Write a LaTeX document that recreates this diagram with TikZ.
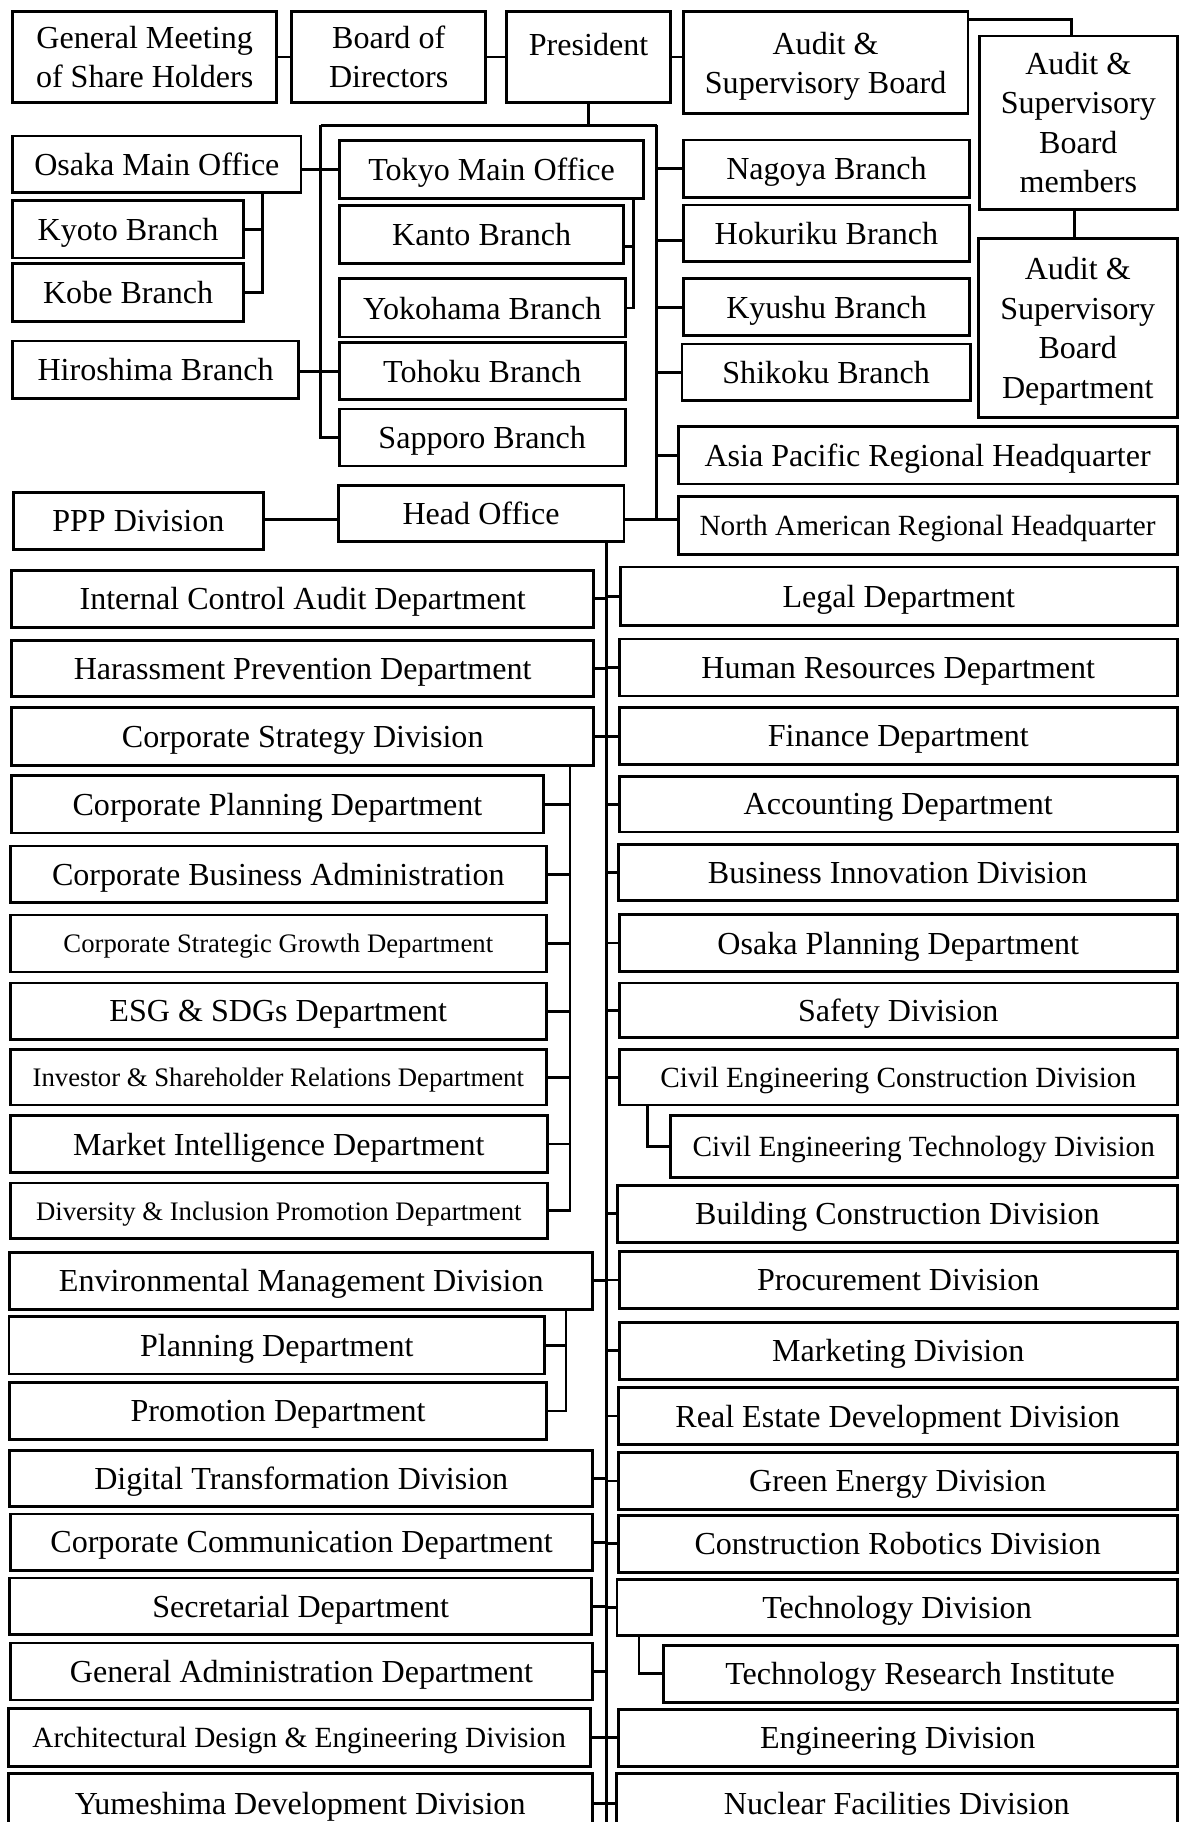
\documentclass[tikz,border=0pt]{standalone}
\usepackage{fontspec}
\setmainfont{Liberation Serif}
\begin{document}
\begin{tikzpicture}[x=0.5pt,y=-0.5pt,
    box/.style={draw,line width=1.2pt,inner sep=0pt,outer sep=0pt,align=center,text depth=-2pt,font=\fontsize{13.8}{17}\selectfont},
    med/.style={font=\fontsize{12.6}{15}\selectfont},
    sml/.style={font=\fontsize{11.5}{14}\selectfont},
    link/.style={line width=1.2pt}]

\def\BOX#1#2#3#4#5#6#7{\node[box,#6,minimum width={(#4-#2)*0.5pt},minimum height={(#5-#3)*0.5pt}] (#1) at ({(#2+#4)/2},{(#3+#5)/2}) {#7};}

	\useasboundingbox (0,0) rectangle (1014,1568);

	% top
	\BOX{gm}{11}{10}{238}{88}{}{General Meeting\\of Share Holders}
	\BOX{bod}{251}{10}{418}{88}{}{Board of\\Directors}
	\BOX{pres}{436}{10}{577}{88}{}{\raisebox{11pt}{President}}
	\BOX{asb}{588}{10}{833}{98}{text depth=0pt}{Audit \&\\Supervisory Board}
	\BOX{asbm}{843}{31}{1013}{180}{}{Audit \&\\Supervisory\\Board\\members}
	\BOX{asbd}{842}{205}{1013}{359}{}{Audit \&\\Supervisory\\Board\\Department}

	% offices and branches
	\BOX{osaka}{11}{117}{259}{166}{}{Osaka Main Office}
	\BOX{kyoto}{11}{172.7}{209.5}{222}{}{Kyoto Branch}
	\BOX{kobe}{11}{226.7}{209.5}{277}{}{Kobe Branch}
	\BOX{hiroshima}{11}{293.5}{256.7}{343}{}{Hiroshima Branch}
	\BOX{ppp}{11.5}{423.5}{226.6}{472.7}{}{PPP Division}
	\BOX{tokyo}{292.5}{121}{553.6}{170.7}{}{Tokyo Main Office}
	\BOX{kanto}{292.5}{177}{536.5}{226.7}{}{Kanto Branch}
	\BOX{yokohama}{292}{240}{538}{290}{}{Yokohama Branch}
	\BOX{tohoku}{292}{295}{538}{344}{}{Tohoku Branch}
	\BOX{sapporo}{292}{352}{538}{401}{}{Sapporo Branch}
	\BOX{head}{291}{417.5}{537}{466}{}{Head Office}
	\BOX{nagoya}{588.5}{120.5}{834}{170}{}{Nagoya Branch}
	\BOX{hokuriku}{588.5}{176.5}{834}{225}{}{Hokuriku Branch}
	\BOX{kyushu}{588.5}{239.7}{834}{289}{}{Kyushu Branch}
	\BOX{shikoku}{587}{296}{835}{345}{}{Shikoku Branch}
	\BOX{asia}{583.6}{367}{1013}{416.6}{}{Asia Pacific Regional Headquarter}
	\BOX{na}{583.6}{427.5}{1013}{477}{med}{North American Regional Headquarter}

	% left column
	\BOX{icad}{10}{490.7}{511}{539.7}{}{Internal Control Audit Department}
	\BOX{hpd}{10}{551}{511}{599.7}{}{Harassment Prevention Department}
	\BOX{csd}{10}{609}{511}{658.5}{}{Corporate Strategy Division}
	\BOX{cpd}{10}{667.7}{467.5}{716.8}{}{Corporate Planning Department}
	\BOX{cba}{9}{728}{470}{777}{}{Corporate Business Administration}
	\BOX{csgd}{9}{787.4}{470}{836.4}{sml}{Corporate Strategic Growth Department}
	\BOX{esg}{9}{846}{470}{894.4}{}{ESG \& SDGs Department}
	\BOX{ishr}{9}{903}{470}{951}{sml}{Investor \& Shareholder Relations Department}
	\BOX{mid}{9}{960}{471}{1009}{}{Market Intelligence Department}
	\BOX{dipd}{9}{1018}{471}{1066}{sml}{Diversity \& Inclusion Promotion Department}
	\BOX{emd}{8.5}{1077.6}{510}{1126.6}{}{Environmental Management Division}
	\BOX{pld}{7.7}{1132.8}{468.8}{1182.4}{}{Planning Department}
	\BOX{prd}{8.5}{1189.5}{470}{1239}{}{Promotion Department}
	\BOX{dtd}{8.5}{1248}{510}{1296.8}{}{Digital Transformation Division}
	\BOX{ccd}{9}{1303}{510}{1351.6}{}{Corporate Communication Department}
	\BOX{sed}{8.5}{1358}{509}{1406.8}{}{Secretarial Department}
	\BOX{gad}{9}{1414}{510}{1463}{}{General Administration Department}
	\BOX{aded}{7}{1470.6}{508}{1520}{med}{Architectural Design \& Engineering Division}
	\BOX{ydd}{7}{1526}{509.6}{1578}{}{Yumeshima Development Division}

	% right column
	\BOX{legal}{534}{488}{1013}{538.6}{}{Legal Department}
	\BOX{hrd}{533}{550}{1013}{599}{}{Human Resources Department}
	\BOX{fin}{533}{609}{1013}{658}{}{Finance Department}
	\BOX{acc}{533}{668}{1013}{716}{}{Accounting Department}
	\BOX{bid}{532}{727}{1013}{775}{}{Business Innovation Division}
	\BOX{opd}{533}{787}{1013}{836}{}{Osaka Planning Department}
	\BOX{safety}{533}{846}{1013}{893}{}{Safety Division}
	\BOX{cecd}{533}{903}{1013}{951}{med}{Civil Engineering Construction Division}
	\BOX{cetd}{577}{960}{1013}{1013}{med}{Civil Engineering Technology Division}
	\BOX{bcd}{531.6}{1020}{1013}{1069}{}{Building Construction Division}
	\BOX{proc}{533}{1077}{1013}{1126}{}{Procurement Division}
	\BOX{mkt}{533}{1138}{1013}{1187}{}{Marketing Division}
	\BOX{red}{532}{1194}{1013}{1243}{}{Real Estate Development Division}
	\BOX{ged}{532}{1250}{1013}{1299}{}{Green Energy Division}
	\BOX{crd}{532}{1304}{1013}{1353}{}{Construction Robotics Division}
	\BOX{tech}{531}{1359}{1013}{1407.4}{}{Technology Division}
	\BOX{tri}{570.7}{1416}{1013}{1465}{}{Technology Research Institute}
	\BOX{eng}{532}{1471}{1013}{1520}{}{Engineering Division}
	\BOX{nuc}{530.5}{1526}{1013}{1578}{}{Nuclear Facilities Division}

	% top links
	\draw[link] (gm.east) -- (bod.west);
	\draw[link] (bod.east) -- (pres.west);
	\draw[link] (pres.east) -- (pres.east -| asb.west);
	\draw[link] ([yshift=-3.3pt]asb.north east) -| ([xshift=-3pt]asbm.north);
	\draw[link] ([xshift=-1.5pt]asbm.south) -- ([xshift=-1.5pt]asbm.south |- asbd.north);

	\coordinate (busL) at (276,108);
	\coordinate (busR) at (565,108);
	\draw[link] (pres.south) -- (pres.south |- busL);
	\draw[link] (busL) -- (busR);
	\draw[link] (busL) |- (sapporo.west);
	\draw[link] (osaka.east |- tokyo.west) -- (tokyo.west);
	\draw[link] (hiroshima.east |- tohoku.west) -- (tohoku.west);

	\coordinate (osub) at (225.6,0);
	\draw[link] (osaka.south -| osub) |- (kobe.east);
	\draw[link] (kyoto.east) -- (kyoto.east -| osub);

	\coordinate (tsub) at (545,0);
	\path ([yshift=-5pt]kanto.east) coordinate (kt);
	\draw[link] (tokyo.south -| tsub) |- (yokohama.east);
	\draw[link] (kt) -- (kt -| tsub);

	\coordinate (hq) at (565,447);
	\path ([yshift=-3pt]hokuriku.west) coordinate (hk);
	\draw[link] (busR) -- (hq);
	\draw[link] (ppp.east |- hq) -- (hq -| head.west);
	\draw[link] (hq -| head.east) -- (hq -| na.west);
	\draw[link] (hk) -- (hk -| hq);
	\foreach \n in {nagoya,kyushu,shikoku,asia}
		\draw[link] (\n.west -| hq) -- (\n.west);

	% head office spine
	\coordinate (spine) at (522,1568);
	\draw[link] (head.south -| spine) -- (spine);
	\foreach \n in {icad,hpd,csd,emd,dtd,ccd,sed,gad,aded,ydd}
		\draw[link] (\n.east) -- (\n.east -| spine);
	\foreach \n in {legal,hrd,fin,acc,bid,opd,safety,cecd,bcd,proc,mkt,red,ged,crd,tech,eng,nuc}
		\draw[link] (\n.west) -- (\n.west -| spine);

	\coordinate (csub) at (490.5,0);
	\draw[link] (csd.south -| csub) |- (dipd.east);
	\foreach \n in {cpd,cba,csgd,esg,ishr,mid}
		\draw[link] (\n.east) -- (\n.east -| csub);

	\coordinate (esub) at (487,0);
	\draw[link] (emd.south -| esub) |- (prd.east);
	\draw[link] (pld.east) -- (pld.east -| esub);

	\coordinate (cesub) at (557,0);
	\draw[link] (cecd.south -| cesub) |- (cetd.west);
	\coordinate (tesub) at (550,0);
	\draw[link] (tech.south -| tesub) |- (tri.west);

\end{tikzpicture}
\end{document}
